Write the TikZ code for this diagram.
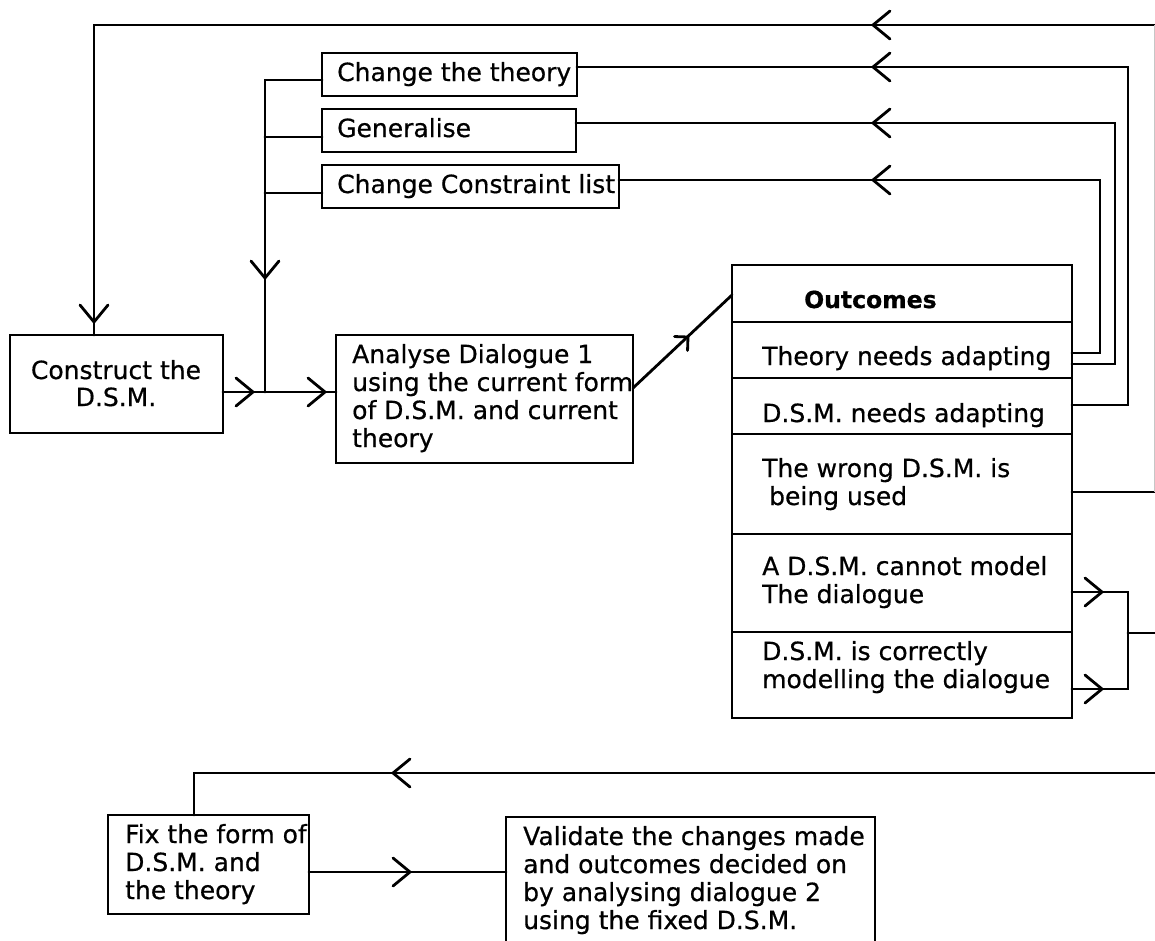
\documentclass[tikz,border=0pt]{standalone}
\usepackage{fontspec}
\setmainfont[FakeBold=0.6]{DejaVu Sans}
\begin{document}
\begin{tikzpicture}[x=1pt,y=-1pt,
  conn/.style={line width=2.8pt, line cap=round, line join=miter},
  box/.style={draw, line width=2.8pt, inner sep=0pt, outer sep=0pt, anchor=north west},
  txt/.style={inner sep=0pt, anchor=base west, align=left, font=\fontsize{25}{28}\selectfont},
  ctxt/.style={inner sep=0pt, anchor=base, align=center, font=\fontsize{25}{27}\selectfont},
  btxt/.style={inner sep=0pt, anchor=base west, font=\fontsize{23.5}{28}\selectfont\bfseries},
  vtip/.pic={\draw[line width=2.8pt, line cap=round] (-17,14) -- (0,0) -- (-17,-14);},
  stip/.pic={\draw[line width=2.8pt, line cap=round] (-9.5,9.5) -- (0,0) -- (-9.5,-9.5);}
]
\useasboundingbox (0,0) rectangle (1155,940);
\clip (0,0) rectangle (1155,940);

% ---------- boxes ----------
\node[box, minimum width=213pt, minimum height=98pt] (cons) at (10,335) {};
\node[ctxt] (const) at (116,406) {Construct the\\D.S.M.};

\node[box, minimum width=297pt, minimum height=128pt] (ana) at (336,335) {};
\node[txt] (anat) at (352,447) {Analyse Dialogue 1\\using the current form\\of D.S.M. and current\\theory};

\node[box, minimum width=255pt, minimum height=43pt] (ct) at (322,53) {};
\node[txt] (ctt) at (337,81) {Change the theory};
\node[box, minimum width=254pt, minimum height=43pt] (gen) at (322,109) {};
\node[txt] (gent) at (337,137) {Generalise};
\node[box, minimum width=297pt, minimum height=43pt] (ccl) at (322,165) {};
\node[txt] (cclt) at (337,193) {Change Constraint list};

% outcomes table
\node[box, minimum width=340pt, minimum height=57pt] (o0) at (732,265) {};
\node[box, minimum width=340pt, minimum height=56pt] (o1) at (732,322) {};
\node[box, minimum width=340pt, minimum height=56pt] (o2) at (732,378) {};
\node[box, minimum width=340pt, minimum height=100pt] (o3) at (732,434) {};
\node[box, minimum width=340pt, minimum height=98pt] (o4) at (732,534) {};
\node[box, minimum width=340pt, minimum height=86pt] (o5) at (732,632) {};
\node[btxt] (o0t) at (804,308) {Outcomes};
\node[txt] (o1t) at (762,365) {Theory needs adapting};
\node[txt] (o2t) at (762,422) {D.S.M. needs adapting};
\node[txt] (o3t) at (762,505) {The wrong D.S.M. is\\\hphantom{i}being used};
\node[txt] (o4t) at (762,603) {A D.S.M. cannot model\\The dialogue};
\node[txt] (o5t) at (762,688) {D.S.M. is correctly\\modelling the dialogue};

\node[box, minimum width=201pt, minimum height=99pt] (fix) at (108,815) {};
\node[txt] (fixt) at (125,899) {Fix the form of\\D.S.M. and\\the theory};

\node[box, minimum width=369pt, minimum height=160pt] (val) at (506,817) {};
\node[txt] (valt) at (523,929) {Validate the changes made\\and outcomes decided on\\by analysing dialogue 2\\using the fixed D.S.M.};

% ---------- coordinates ----------
\coordinate (edgeT) at (1160,25);
\coordinate (topL) at (94,25);
\coordinate (bus) at (265,80);
\coordinate (busB) at (265,392);
\coordinate (b2) at (265,137);
\coordinate (b3) at (265,193);
\coordinate (r1) at (1128,67);
\coordinate (r2) at (1115,123);
\coordinate (r3) at (1100,180);
\coordinate (r1e) at (1128,405);
\coordinate (r2e) at (1115,364);
\coordinate (r3e) at (1100,353);
\coordinate (j1) at (1128,592);
\coordinate (j2) at (1128,689);
\coordinate (jm) at (1128,633);
\coordinate (edgeM) at (1160,633);
\coordinate (edgeW) at (1160,492);
\coordinate (edgeB) at (1160,773);
\coordinate (botL) at (194,773);
\coordinate (dgS) at (633,388);
\coordinate (dgE) at (732,295);
\coordinate (fv) at (309,872);

% ---------- connectors ----------
\draw[conn] (edgeT) -- (topL) -- (cons.north -| topL);
\draw[conn] (ct.west |- bus) -- (bus) -- (busB);
\draw[conn] (gen.west |- b2) -- (b2);
\draw[conn] (ccl.west |- b3) -- (b3);
\draw[conn] (cons.east |- busB) -- (ana.west |- busB);

\draw[conn] (ana.east |- dgS) -- (o0.west |- dgE);

\draw[conn] (ct.east |- r1) -- (r1) -- (r1e) -- (o2.east |- r1e);
\draw[conn] (gen.east |- r2) -- (r2) -- (r2e) -- (o1.east |- r2e);
\draw[conn] (ccl.east |- r3) -- (r3) -- (r3e) -- (o1.east |- r3e);

\draw[conn] (o3.east |- edgeW) -- (edgeW);
\draw[conn] (o4.east |- j1) -- (j1) -- (j2) -- (o5.east |- j2);
\draw[conn] (jm) -- (edgeM);
\draw[conn] (edgeB) -- (botL) -- (fix.north -| botL);
\draw[conn] (fix.east |- fv) -- (val.west |- fv);

% faint cropped right bus
\draw[gray!45, line width=1pt] (1154.5,25) -- (1154.5,492);

% ---------- arrowheads ----------
\pic[rotate=180] at (873,25) {vtip};
\pic[rotate=180] at (873,67) {vtip};
\pic[rotate=180] at (873,123) {vtip};
\pic[rotate=180] at (873,180) {vtip};
\pic[rotate=-90] at (94,322) {vtip};
\pic[rotate=-90] at (265,278) {vtip};
\pic at (253,392) {vtip};
\pic at (325,392) {vtip};
\pic[rotate=43] at (688,337) {stip};
\pic at (1102,592) {vtip};
\pic at (1102,689) {vtip};
\pic[rotate=180] at (393,773) {vtip};
\pic at (410,872) {vtip};
\end{tikzpicture}
\end{document}
